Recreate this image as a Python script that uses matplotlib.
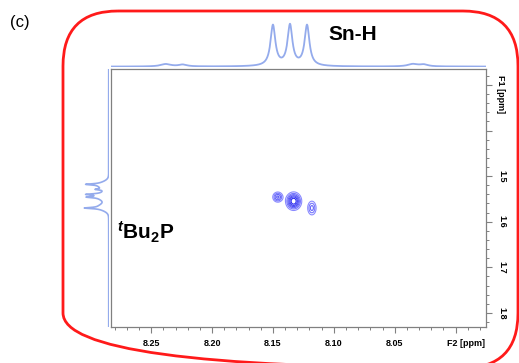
import numpy as np
import matplotlib.pyplot as plt
from matplotlib.patches import FancyBboxPatch
from matplotlib.ticker import MultipleLocator

plt.rcParams['font.family'] = ['Liberation Sans', 'DejaVu Sans']
plt.rcParams['mathtext.fontset'] = 'custom'
plt.rcParams['mathtext.bf'] = 'Liberation Sans:bold'
plt.rcParams['mathtext.it'] = 'Liberation Sans:italic:bold'

# F2 projection (Sn-H triplet + satellites)
f2_shift = [8.150, 8.136, 8.122, 8.238, 8.224, 8.035, 8.026]
f2_height = [1.0, 1.0, 1.0, 0.06, 0.045, 0.06, 0.045]
f2_width = [0.0024, 0.0024, 0.0024, 0.005, 0.004, 0.005, 0.004]

# F1 projection (tBu2P multiplet)
f1_shift = [1.520, 1.545, 1.568, 1.518, 1.529, 1.540, 1.546, 1.570]
f1_height = [0.35, 0.38, 0.35, 0.5, 0.28, 0.5, 0.42, 0.55]
f1_width = [0.007, 0.008, 0.007, 0.0014, 0.0014, 0.0014, 0.0014, 0.0014]

# cross peaks
cross_f2 = [8.146, 8.133, 8.118]
cross_f1 = [1.546, 1.555, 1.570]
cross_amp = [0.5, 1.0, 0.38]
cross_sx = [0.0023, 0.0031, 0.0021]
cross_sy = [0.0062, 0.0095, 0.0092]

x_ticks = [8.25, 8.20, 8.15, 8.10, 8.05, 8.00]
x_labels = ['8.25', '8.20', '8.15', '8.10', '8.05', '']
y_ticks = [1.3, 1.4, 1.5, 1.6, 1.7, 1.8]
y_labels = ['', '', '1.5', '1.6', '1.7', '1.8']

xlim = (8.283, 7.975)
ylim = (1.831, 1.265)

W, H = 519, 363
fig = plt.figure(figsize=(W / 100, H / 100), dpi=100)

def frac(x0, y0, x1, y1):
    # pixel box (top-left origin) -> figure fraction rect
    return [x0 / W, 1 - y1 / H, (x1 - x0) / W, (y1 - y0) / H]

# red rounded frame
bg = fig.add_axes([0, 0, 1, 1])
bg.set_xlim(0, W)
bg.set_ylim(H, 0)
bg.axis('off')
bg.add_patch(FancyBboxPatch((63, 11), 455, 357, boxstyle='round,pad=0,rounding_size=55',
                            fill=False, edgecolor='#ff1a1a', lw=2))

line_col = '#94abec'

# main 2D plot
ax = fig.add_axes(frac(111, 69, 486, 327))
xs = np.linspace(xlim[1], xlim[0], 600)
ys = np.linspace(ylim[1], ylim[0], 600)
X, Y = np.meshgrid(xs, ys)
Z = np.zeros_like(X)
for cx, cy, a, sx, sy in zip(cross_f2, cross_f1, cross_amp, cross_sx, cross_sy):
    Z += a * np.exp(-0.5 * ((X - cx) / sx) ** 2 - 0.5 * ((Y - cy) / sy) ** 2)
levels = [0.1, 0.2, 0.32, 0.46, 0.62, 0.8]
cols = plt.cm.colors.LinearSegmentedColormap.from_list('b', ['#8a8aff', '#2a2aee'])(np.linspace(0, 1, len(levels)))
ax.contour(X, Y, Z, levels=levels, colors=cols, linewidths=0.8)
ax.set_xlim(xlim)
ax.set_ylim(ylim)
for s in ax.spines.values():
    s.set_color('#808080')
    s.set_linewidth(0.9)
ax.set_xticks(x_ticks)
ax.set_xticklabels(x_labels)
ax.xaxis.set_minor_locator(MultipleLocator(0.01))
ax.set_yticks(y_ticks)
ax.set_yticklabels(y_labels, rotation=-90, va='center')
ax.yaxis.set_minor_locator(MultipleLocator(0.02))
ax.yaxis.tick_right()
ax.tick_params(which='major', length=4.3, width=0.8, color='#808080', labelsize=6.5, pad=4)
ax.tick_params(which='minor', length=2.2, width=0.7, color='#808080')
for lab in ax.get_xticklabels() + ax.get_yticklabels():
    lab.set_fontweight('bold')

fig.text(447 / W, 1 - 343 / H, 'F2 [ppm]', fontsize=6.5, fontweight='bold', ha='left', va='center')
fig.text(500 / W, 1 - 94 / H, 'F1 [ppm]', fontsize=6.5, fontweight='bold', ha='center', va='center',
         rotation=-90)

# top projection
axt = fig.add_axes(frac(111, 22, 486, 67))
xt = np.linspace(xlim[1], xlim[0], 2000)
spec_t = np.zeros_like(xt)
for c, h, w in zip(f2_shift, f2_height, f2_width):
    spec_t += h / (1 + ((xt - c) / w) ** 2)
axt.plot(xt, spec_t, color=line_col, lw=1.3)
axt.set_xlim(xlim)
axt.set_ylim(-0.01, 1.1)
axt.axis('off')

# left projection
axl = fig.add_axes(frac(80, 69, 109, 327))
yl = np.linspace(ylim[1], ylim[0], 3000)
spec_l = np.zeros_like(yl)
for c, h, w in zip(f1_shift, f1_height, f1_width):
    if w > 0.002:
        spec_l += h * np.exp(-0.5 * ((yl - c) / w) ** 2)
    else:
        spec_l += h / (1 + ((yl - c) / w) ** 2)
axl.plot(spec_l, yl, color=line_col, lw=1.2)
axl.set_ylim(ylim)
axl.set_xlim(1.05, -0.01)
axl.axis('off')

fig.text(10 / W, 1 - 22 / H, '(c)', fontsize=12, ha='left', va='center')
fig.text(328 / W, 1 - 34 / H, 'Sn-H', fontsize=15, fontweight='bold', ha='left', va='center')
fig.text(117 / W, 1 - 232 / H, r'$^{\mathit{t}}$$\mathbf{Bu_2P}$', fontsize=15, ha='left', va='center')

fig.savefig('out.png', dpi=100)
